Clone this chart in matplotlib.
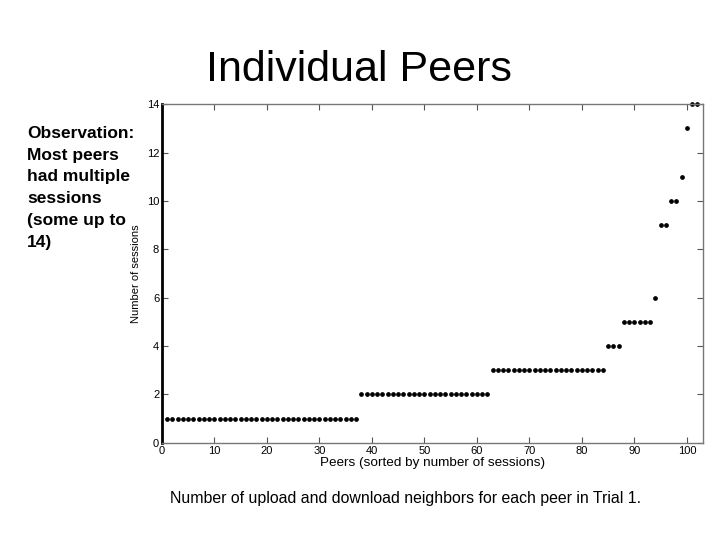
import numpy as np
import matplotlib
matplotlib.use('Agg')
import matplotlib.pyplot as plt

plt.rcParams['font.family'] = ['Liberation Sans', 'DejaVu Sans']

# sessions per peer, sorted ascending (peer index starts at 1)
session_levels = [1, 2, 3, 4, 5, 6, 9, 10, 11, 13, 14]
peers_per_level = [37, 25, 22, 3, 6, 1, 2, 2, 1, 1, 2]
sessions = np.repeat(session_levels, peers_per_level)
peers = np.arange(1, len(sessions) + 1)

x_ticks = np.arange(0, 101, 10)
y_ticks = np.arange(0, 15, 2)

fig = plt.figure(figsize=(7.2, 5.4), dpi=100)
ax = fig.add_axes([0.225, 0.180, 0.751, 0.627])

ax.plot(peers, sessions, linestyle='none', marker='o', markersize=2.4,
        color='black', clip_on=False)

ax.set_xlim(0, 103)
ax.set_ylim(0, 14)
ax.set_xticks(x_ticks)
ax.set_yticks(y_ticks)
ax.tick_params(direction='in', length=4, width=0.8, labelsize=8,
               top=True, right=True, pad=2, colors='#555555', labelcolor='black')
ax.set_xlabel('Peers (sorted by number of sessions)', fontsize=9.7, labelpad=1)
ax.set_ylabel('Number of sessions', fontsize=8, labelpad=4)

for side in ['top', 'right', 'bottom']:
    ax.spines[side].set_color('#777777')
    ax.spines[side].set_linewidth(1.0)
ax.spines['left'].set_color('black')
ax.spines['left'].set_linewidth(2.0)

fig.text(0.499, 0.870, 'Individual Peers', fontsize=31, ha='center', va='center')
fig.text(0.038, 0.767, 'Observation:\nMost peers\nhad multiple\nsessions\n(some up to\n14)',
         fontsize=12.5, fontweight='bold', ha='left', va='top', linespacing=1.57)
fig.text(0.236, 0.076, 'Number of upload and download neighbors for each peer in Trial 1.',
         fontsize=11.4, ha='left', va='center')

fig.savefig('out.png', dpi=100, facecolor='white')
